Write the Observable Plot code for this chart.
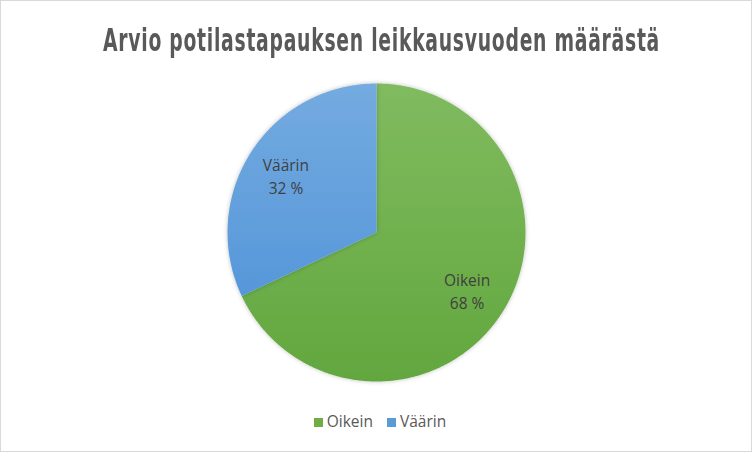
<!DOCTYPE html>
<html><head><meta charset="utf-8">
<script src="https://cdn.jsdelivr.net/npm/d3@7"></script>
<script src="https://cdn.jsdelivr.net/npm/@observablehq/plot@0.6"></script>
<style>
body{margin:0;background:#fff;}
#chart{position:relative;width:752px;height:452px;box-sizing:border-box;border:1px solid #d9d9d9;overflow:hidden;font-family:"Open Sans",sans-serif;background:#fff;}
#chart svg{position:absolute;left:0;top:0;}
#title{position:absolute;top:20px;left:102px;font-family:"DejaVu Sans Condensed","DejaVu Sans",sans-serif;font-stretch:condensed;font-weight:bold;font-size:29px;line-height:34px;color:#595959;white-space:nowrap;transform-origin:0 0;letter-spacing:1px;}
#legend{position:absolute;top:409px;left:0;width:758px;text-align:center;font-size:15.5px;color:#595959;white-space:nowrap;}
#legend span.sw{display:inline-block;width:9px;height:9px;margin-right:4px;vertical-align:0px;}
#legend span.it{margin:0 7px;}
</style></head><body><div id="chart"><div id="title"></div><div id="legend"></div></div>
<script>
const title = "Arvio potilastapauksen leikkausvuoden määrästä";
const categories = ["Oikein", "Väärin"];
const percents = [68, 32];
const colorsTop = ["#80bb5f", "#74abe0"];
const colorsBottom = ["#62a73e", "#4a8fd7"];
const legendColors = ["#70ad47", "#5b9bd5"];

const W = 750, H = 450, cx = 375, cy = 231, r = 149;

const arcs = d3.pie().sort(null).value(d => d.pct)(categories.map((c, i) => ({cat: c, pct: percents[i], i})));
const pts = [];
arcs.forEach(a => {
  const n = Math.max(2, Math.ceil((a.endAngle - a.startAngle) / (Math.PI / 360)));
  pts.push({i: a.data.i, x: 0, y: 0});
  for (let k = 0; k <= n; k++) {
    const t = a.startAngle + (a.endAngle - a.startAngle) * k / n;
    pts.push({i: a.data.i, x: Math.sin(t), y: Math.cos(t)});
  }
  pts.push({i: a.data.i, x: 0, y: 0});
});
const labels = arcs.map(a => {
  const m = (a.startAngle + a.endAngle) / 2;
  return {x: 0.72 * Math.sin(m), y: 0.72 * Math.cos(m), text: `${a.data.cat}\n${a.data.pct} %`};
});
const gid = ["gOk", "gVa"];

const svg = Plot.plot({
  width: W, height: H, margin: 0,
  x: {domain: [-1, 1], range: [cx - r, cx + r], axis: null},
  y: {domain: [-1, 1], range: [cy + r, cy - r], axis: null},
  marks: [
    ...categories.map((c, i) => Plot.line(pts.filter(p => p.i === i), {
      x: "x", y: "y", fill: `url(#${gid[i]})`, stroke: "none", curve: "linear"
    })),
    Plot.text(labels, {x: "x", y: "y", text: "text", fontSize: 15.5, lineHeight: 1.5, fill: "#404040", fontFamily: "Open Sans"})
  ]
});
const s = d3.select(svg);
const defs = s.insert("defs", ":first-child");
const f = defs.append("filter").attr("id", "sh").attr("x", "-10%").attr("y", "-10%").attr("width", "120%").attr("height", "120%");
f.append("feDropShadow").attr("dx", 0).attr("dy", 0).attr("stdDeviation", 2).attr("flood-color", "#000").attr("flood-opacity", 0.25);
gid.forEach((id, i) => {
  const g = defs.append("linearGradient").attr("id", id).attr("gradientUnits", "userSpaceOnUse")
    .attr("x1", 0).attr("x2", 0).attr("y1", cy - r).attr("y2", cy + r);
  g.append("stop").attr("offset", "0%").attr("stop-color", colorsTop[i]);
  g.append("stop").attr("offset", "100%").attr("stop-color", colorsBottom[i]);
});
s.selectAll("g[aria-label=line]").attr("filter", "url(#sh)");
document.getElementById("chart").prepend(svg);
const t = document.getElementById("title");
t.textContent = title;
const w = t.getBoundingClientRect().width;
t.style.transform = `scale(${557 / w}, 1.1)`;
document.getElementById("legend").innerHTML = categories.map((c, i) =>
  `<span class="it"><span class="sw" style="background:${legendColors[i]}"></span>${c}</span>`).join("");
</script></body></html>
